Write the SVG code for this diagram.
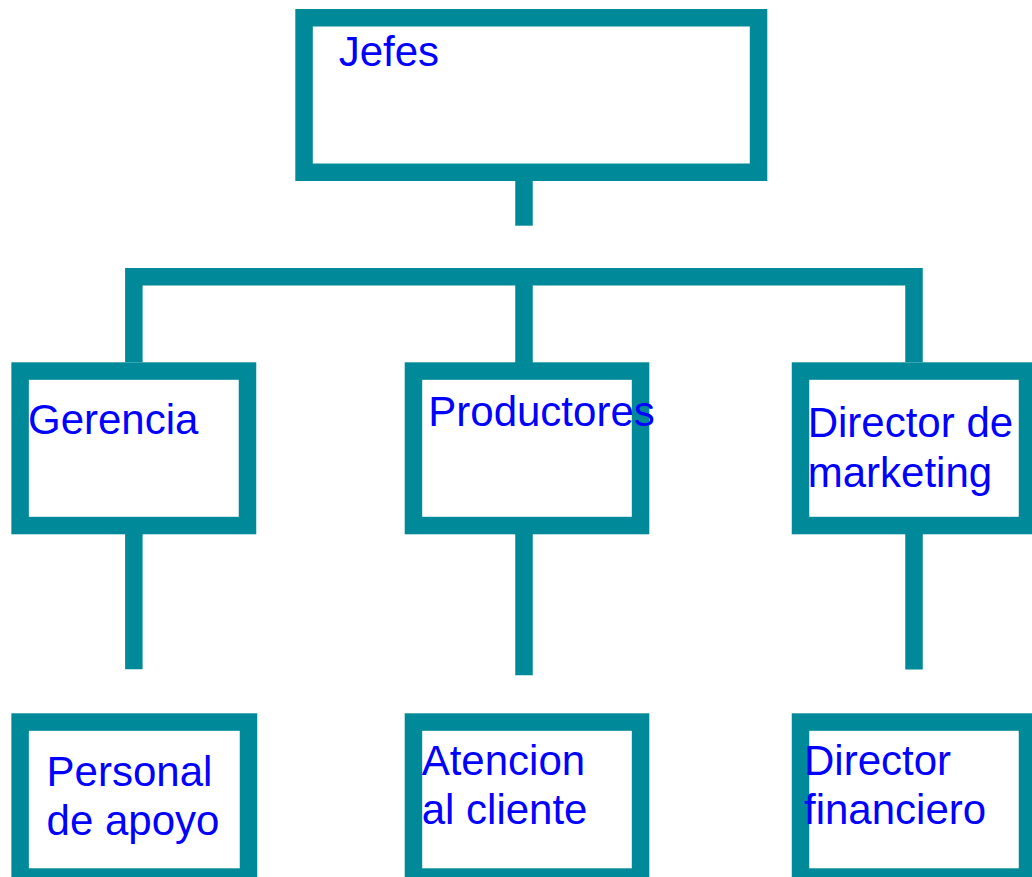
<svg xmlns="http://www.w3.org/2000/svg" width="1032" height="877" viewBox="0 0 1032 877">
<style>
.box{fill:#fff;stroke:#008A99;stroke-width:17.5}
.con{fill:none;stroke:#008A99;stroke-width:17.5;stroke-linecap:butt;stroke-linejoin:miter}
text{font-family:"Liberation Sans",Arial,sans-serif;font-size:42px;fill:#0000FF}
</style>
<rect width="1032" height="877" fill="#fff"/>
<g id="connectors">
<line class="con" x1="524" y1="175" x2="524" y2="225.7"/>
<polyline class="con" points="133.85,362.3 133.85,276.8 914,276.8 914,362.3"/>
<line class="con" x1="524" y1="276.8" x2="524" y2="365"/>
<line class="con" x1="133.85" y1="530" x2="133.85" y2="669.3"/>
<line class="con" x1="524" y1="530" x2="524" y2="675.3"/>
<line class="con" x1="914" y1="530" x2="914" y2="669.5"/>
</g>
<g id="jefes">
<rect class="box" x="304.05" y="17.75" width="454.5" height="154.5"/>
<text x="338.7" y="66">Jefes</text>
</g>
<g id="gerencia">
<rect class="box" x="20.1" y="371.05" width="227.4" height="154.5"/>
<text x="28" y="434.3">Gerencia</text>
</g>
<g id="productores">
<rect class="box" x="413.45" y="371.05" width="227.1" height="154.5"/>
<text x="428.3" y="425.7">Productores</text>
</g>
<g id="director-marketing">
<rect class="box" x="800.5" y="371.05" width="227" height="154.5"/>
<text x="807.7" y="436.7">Director de</text>
<text x="807.7" y="486.7">marketing</text>
</g>
<g id="personal-apoyo">
<rect class="box" x="20.1" y="722.05" width="228.4" height="155"/>
<text x="46.6" y="786">Personal</text>
<text x="46.6" y="835">de apoyo</text>
</g>
<g id="atencion-cliente">
<rect class="box" x="413.45" y="722.05" width="227.1" height="155"/>
<text x="421.7" y="775">Atencion</text>
<text x="421.7" y="824">al cliente</text>
</g>
<g id="director-financiero">
<rect class="box" x="800.5" y="722.05" width="227" height="155"/>
<text x="804" y="775.3">Director</text>
<text x="804" y="824">financiero</text>
</g>
</svg>
